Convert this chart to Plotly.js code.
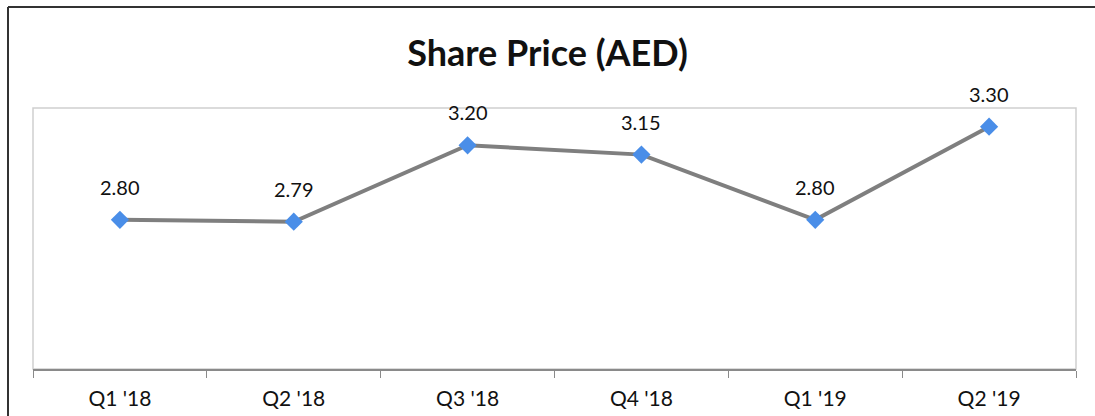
<!DOCTYPE html>
<html>
<head>
<meta charset="utf-8">
<script src="https://cdn.plot.ly/plotly-3.0.1.min.js"></script>
<style>
  html, body { margin: 0; padding: 0; background: #fff; }
</style>
</head>
<body>
<div id="chart" style="width:1095px;height:416px;"></div>
<script>
const categories = ["Q1 '18", "Q2 '18", "Q3 '18", "Q4 '18", "Q1 '19", "Q2 '19"];
const sharePrice = [2.80, 2.79, 3.20, 3.15, 2.80, 3.30];
const priceLabels = ["2.80", "2.79", "3.20", "3.15", "2.80", "3.30"];

const FONT = "Lato, 'Open Sans', sans-serif";
const W = 1095, H = 416;
const M = { l: 33, r: 19, t: 108, b: 47 };
const PW = W - M.l - M.r, PH = H - M.t - M.b;
// outer frame (pixel positions converted to paper fractions)
const fx = (px) => (px - M.l) / PW;
const fy = (py) => (H - M.b - py) / PH;

const trace = {
  x: categories,
  y: sharePrice,
  type: 'scatter',
  mode: 'lines+markers',
  line: { color: '#7f7f7f', width: 4 },
  marker: { symbol: 'diamond', size: 14, color: '#4a8ee8' },
  hoverinfo: 'skip'
};

const annotations = categories.map((c, i) => ({
  x: c, y: sharePrice[i], xref: 'x', yref: 'y',
  text: priceLabels[i], showarrow: false,
  yshift: 33, font: { family: FONT, size: 20, color: '#111' }
}));

const layout = {
  width: W, height: H,
  margin: M,
  paper_bgcolor: '#fff', plot_bgcolor: '#fff',
  showlegend: false,
  title: {
    text: '<b>Share Price (AED)</b>',
    font: { family: FONT, size: 36, color: '#111' },
    x: 0.5, xanchor: 'center', y: 1 - 53 / 416, yanchor: 'middle', yref: 'container'
  },
  xaxis: {
    type: 'category',
    range: [-0.5, categories.length - 0.5],
    showgrid: false, zeroline: false,
    showline: true, linecolor: '#8a8a8a', linewidth: 1.5,
    ticks: 'outside', tickson: 'boundaries', ticklen: 7, tickcolor: '#8a8a8a', tickwidth: 1,
    ticklabelstandoff: 10,
    tickfont: { family: FONT, size: 21, color: '#111' },
    fixedrange: true
  },
  yaxis: {
    range: [2.0, 3.4],
    showgrid: false, zeroline: false, showline: false,
    showticklabels: false, ticks: '',
    fixedrange: true
  },
  shapes: [
    { type: 'rect', xref: 'paper', yref: 'paper', x0: 0, x1: 1, y0: 0, y1: 1,
      line: { color: '#cfcfcf', width: 1.5 }, layer: 'below' },
    { type: 'line', xref: 'paper', yref: 'paper', x0: fx(8), x1: fx(8), y0: fy(7), y1: fy(430),
      line: { color: '#333', width: 2 } },
    { type: 'line', xref: 'paper', yref: 'paper', x0: fx(8), x1: fx(1110), y0: fy(7), y1: fy(7),
      line: { color: '#333', width: 2 } }
  ],
  annotations: annotations
};

Plotly.newPlot('chart', [trace], layout, { displayModeBar: false, staticPlot: true });
</script>
</body>
</html>
